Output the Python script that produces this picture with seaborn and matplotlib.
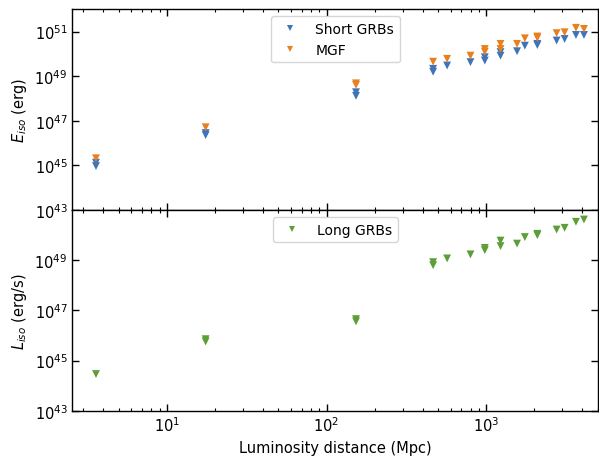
import numpy as np
import pandas as pd
import matplotlib
matplotlib.use("Agg")
import matplotlib.pyplot as plt
import seaborn as sns
from matplotlib.ticker import NullLocator, NullFormatter

sns.set_style("ticks")
plt.rcParams['font.family'] = ['DejaVu Sans']
plt.rcParams['text.color'] = 'black'
plt.rcParams['axes.labelcolor'] = 'black'
plt.rcParams['xtick.color'] = 'black'
plt.rcParams['ytick.color'] = 'black'

# Top panel: isotropic energy (log10 erg)
dist_short = [3.6, 3.6, 17.5, 17.5, 153, 153, 465, 465, 569, 797, 980, 980, 1229, 1229, 1560, 1746, 2090, 2090, 2760, 3097, 3648, 4093]
log_e_short = [44.97, 45.12, 46.36, 46.45, 48.28, 48.12, 49.33, 49.2, 49.48, 49.63, 49.85, 49.7, 50.08, 49.92, 50.12, 50.37, 50.45, 50.4, 50.60, 50.67, 50.85, 50.85]
dist_mgf = [3.6, 17.5, 153, 153, 465, 569, 797, 980, 980, 1229, 1229, 1560, 1746, 2090, 2090, 2760, 3097, 3648, 4093]
log_e_mgf = [45.32, 46.71, 48.61, 48.68, 49.65, 49.78, 49.92, 50.22, 50.1, 50.45, 50.22, 50.45, 50.70, 50.78, 50.72, 50.93, 50.97, 51.17, 51.12]

# Bottom panel: isotropic luminosity (log10 erg/s)
dist_long = [3.6, 17.5, 17.5, 153, 153, 465, 465, 569, 797, 980, 980, 1229, 1229, 1560, 1746, 2090, 2090, 2760, 3097, 3648, 4093]
log_l_long = [44.46, 45.76, 45.85, 46.56, 46.65, 48.92, 48.80, 49.07, 49.23, 49.49, 49.40, 49.56, 49.78, 49.66, 49.92, 50.05, 50.00, 50.22, 50.29, 50.53, 50.62]

c_blue = "#3f74b8"
c_orange = "#e8801f"
c_green = "#5c9e37"

df_top = pd.concat([
    pd.DataFrame({"d": dist_short, "v": 10.0 ** np.array(log_e_short), "kind": "Short GRBs"}),
    pd.DataFrame({"d": dist_mgf, "v": 10.0 ** np.array(log_e_mgf), "kind": "MGF"}),
])
df_bot = pd.DataFrame({"d": dist_long, "v": 10.0 ** np.array(log_l_long), "kind": "Long GRBs"})

fig = plt.figure(figsize=(5.99, 4.60), dpi=100)
W, H = 599, 460
left, right = 72.3 / W, 598 / W
ax1 = fig.add_axes([left, 1 - 211 / H, right - left, (211 - 10.3) / H])
ax2 = fig.add_axes([left, 1 - 411.7 / H, right - left, (411.7 - 211) / H], sharex=ax1)

sns.scatterplot(data=df_top, x="d", y="v", hue="kind", palette=[c_blue, c_orange],
                marker="v", s=32, linewidth=0, ax=ax1)
sns.scatterplot(data=df_bot, x="d", y="v", hue="kind", palette=[c_green],
                marker="v", s=32, linewidth=0, ax=ax2)

for ax in (ax1, ax2):
    ax.set_xscale("log")
    ax.set_yscale("log")
    ax.tick_params(which="both", direction="in", top=True, right=True, labelsize=10.5)
    ax.tick_params(which="major", length=5, width=1)
    ax.tick_params(which="minor", length=2.5, width=0.8)
    for s in ax.spines.values():
        s.set_linewidth(1.0)
        s.set_color("black")

ax1.set_xlim(10 ** 0.408, 10 ** 3.70)
ax1.set_ylim(1e43, 1e52)
ax1.set_yticks([1e43, 1e45, 1e47, 1e49, 1e51])
ax2.set_ylim(1e43, 1e51)
ax2.set_yticks([1e43, 1e45, 1e47, 1e49])
for ax in (ax1, ax2):
    ax.yaxis.set_minor_locator(NullLocator())
    ax.yaxis.set_minor_formatter(NullFormatter())
ax1.tick_params(labelbottom=False)
ax1.set_xlabel("")
ax1.set_ylabel("$E_{iso}$ (erg)", fontsize=10.5)
ax2.set_ylabel("$L_{iso}$ (erg/s)", fontsize=10.5)
ax2.set_xlabel("Luminosity distance (Mpc)", fontsize=10.5)

leg1 = ax1.legend(loc="upper center", fontsize=10, title=None, markerscale=0.8)
leg2 = ax2.legend(loc="upper center", fontsize=10, title=None, markerscale=0.8)

fig.savefig("out.png", dpi=100)
